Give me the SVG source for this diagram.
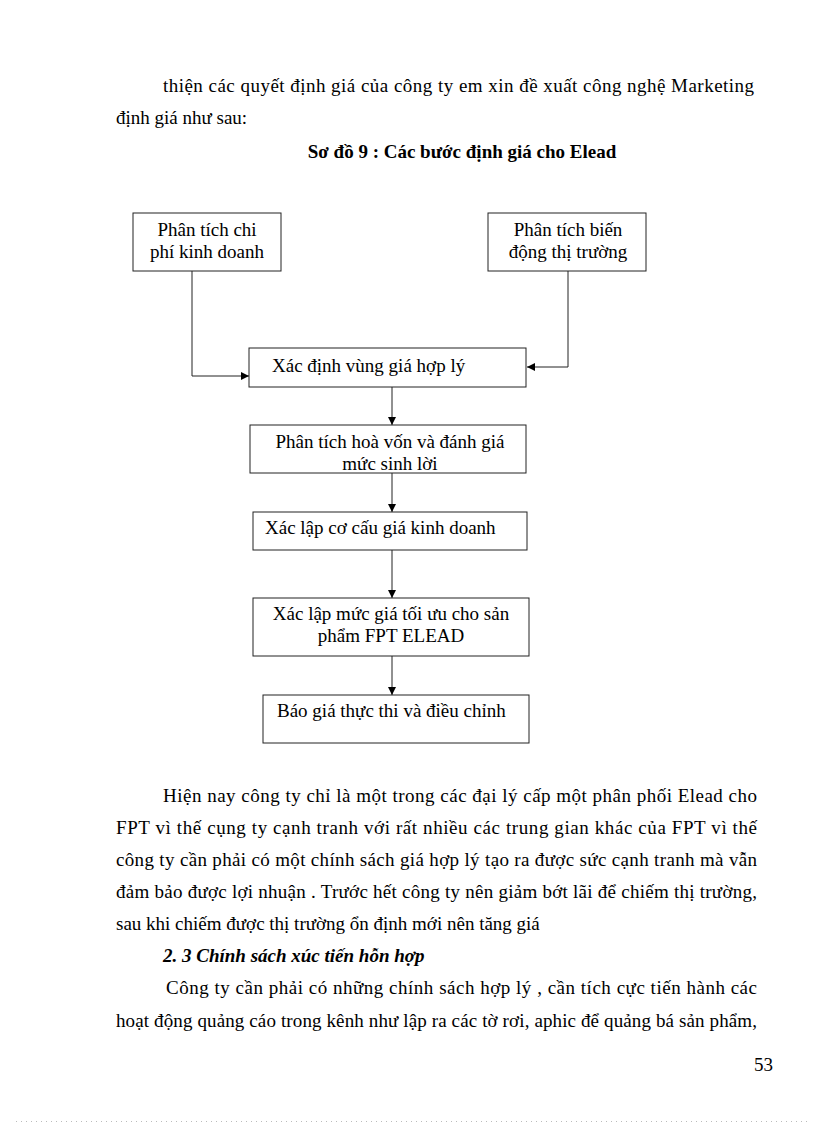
<svg xmlns="http://www.w3.org/2000/svg" width="816" height="1123" viewBox="0 0 816 1123">
<defs>
<marker id="arr" viewBox="0 0 10 10" refX="10" refY="5" markerWidth="8" markerHeight="8" markerUnits="userSpaceOnUse" orient="auto">
<path d="M0,0 L10,5 L0,10 z" fill="#000"/>
</marker>
<style>
.t{font-family:"Liberation Serif","Times New Roman",serif;font-size:19px;fill:#000}
.n{font-family:"Liberation Serif","Times New Roman",serif;font-size:19px;fill:#000}
.b{font-weight:bold}
.bi{font-weight:bold;font-style:italic}
.box{fill:#fff;stroke:#222;stroke-width:1}
.c{fill:none;stroke:#222;stroke-width:1}
</style>
</defs>
<rect width="816" height="1123" fill="#fff"/>
<g id="text">
<text class="t" x="163" y="92" textLength="591" lengthAdjust="spacing">thiện các quyết định giá của công ty em xin đề xuất công nghệ Marketing</text>
<text class="t" x="116" y="124">định giá như sau:</text>
<text class="t b" x="462" y="158" text-anchor="middle">Sơ đồ 9 : Các bước định giá cho Elead</text>
<text class="t" x="163" y="802" textLength="594" lengthAdjust="spacing">Hiện nay công ty chỉ là một trong các đại lý cấp một phân phối Elead cho</text>
<text class="t" x="116" y="834" textLength="641" lengthAdjust="spacing">FPT vì thế cụng ty cạnh tranh với rất nhiều các trung gian khác của FPT vì thế</text>
<text class="t" x="116" y="866" textLength="641" lengthAdjust="spacing">công ty cần phải có một chính sách giá hợp lý tạo ra được sức cạnh tranh mà vẫn</text>
<text class="t" x="116" y="898" textLength="641" lengthAdjust="spacing">đảm bảo được lợi nhuận . Trước hết công ty nên giảm bớt lãi để chiếm thị trường,</text>
<text class="t" x="116" y="930">sau khi chiếm được thị trường ổn định mới nên tăng giá</text>
<text class="t bi" x="163" y="962">2. 3 Chính sách xúc tiến hỗn hợp</text>
<text class="t" x="166" y="994" textLength="591" lengthAdjust="spacing">Công ty cần phải có những chính sách hợp lý , cần tích cực tiến hành các</text>
<text class="t" x="116" y="1027" textLength="641" lengthAdjust="spacing">hoạt động quảng cáo trong kênh như lập ra các tờ rơi, aphic để quảng bá sản phẩm,</text>
<text class="t" x="773" y="1071" text-anchor="end">53</text>
</g>
<line x1="16" y1="1121.5" x2="808" y2="1121.5" stroke="#bbb" stroke-width="1" stroke-dasharray="1,4"/>
<g id="connectors">
<polyline class="c" points="192,271 192,376 249,376" marker-end="url(#arr)"/>
<polyline class="c" points="568,271 568,367 527,367" marker-end="url(#arr)"/>
<line class="c" x1="392" y1="387" x2="392" y2="425" marker-end="url(#arr)"/>
<line class="c" x1="392" y1="473" x2="392" y2="512" marker-end="url(#arr)"/>
<line class="c" x1="392" y1="550" x2="392" y2="598" marker-end="url(#arr)"/>
<line class="c" x1="392" y1="656" x2="392" y2="695" marker-end="url(#arr)"/>
</g>
<g id="n1">
<rect class="box" x="133" y="213" width="148" height="58"/>
<text class="n" x="207" y="236" text-anchor="middle">Phân tích chi</text>
<text class="n" x="207" y="258" text-anchor="middle">phí kinh  doanh</text>
</g>
<g id="n2">
<rect class="box" x="488" y="213" width="158" height="58"/>
<text class="n" x="568" y="236" text-anchor="middle">Phân tích biến</text>
<text class="n" x="568" y="258" text-anchor="middle">động thị trường</text>
</g>
<g id="n3">
<rect class="box" x="249" y="348" width="277" height="39"/>
<text class="n" x="272" y="372">Xác định vùng giá hợp lý</text>
</g>
<g id="n4">
<rect class="box" x="250" y="425" width="276" height="48"/>
<text class="n" x="390" y="448" text-anchor="middle">Phân tích hoà vốn và đánh giá</text>
<text class="n" x="390" y="470" text-anchor="middle">mức sinh lời</text>
</g>
<g id="n5">
<rect class="box" x="253" y="512" width="274" height="38"/>
<text class="n" x="265" y="534">Xác lập cơ cấu giá kinh doanh</text>
</g>
<g id="n6">
<rect class="box" x="253" y="598" width="276" height="58"/>
<text class="n" x="391" y="620" text-anchor="middle">Xác lập mức giá tối ưu cho sản</text>
<text class="n" x="391" y="642" text-anchor="middle">phẩm FPT ELEAD</text>
</g>
<g id="n7">
<rect class="box" x="263" y="695" width="266" height="48"/>
<text class="n" x="277" y="717">Báo giá thực thi và điều chỉnh</text>
</g>
</svg>
